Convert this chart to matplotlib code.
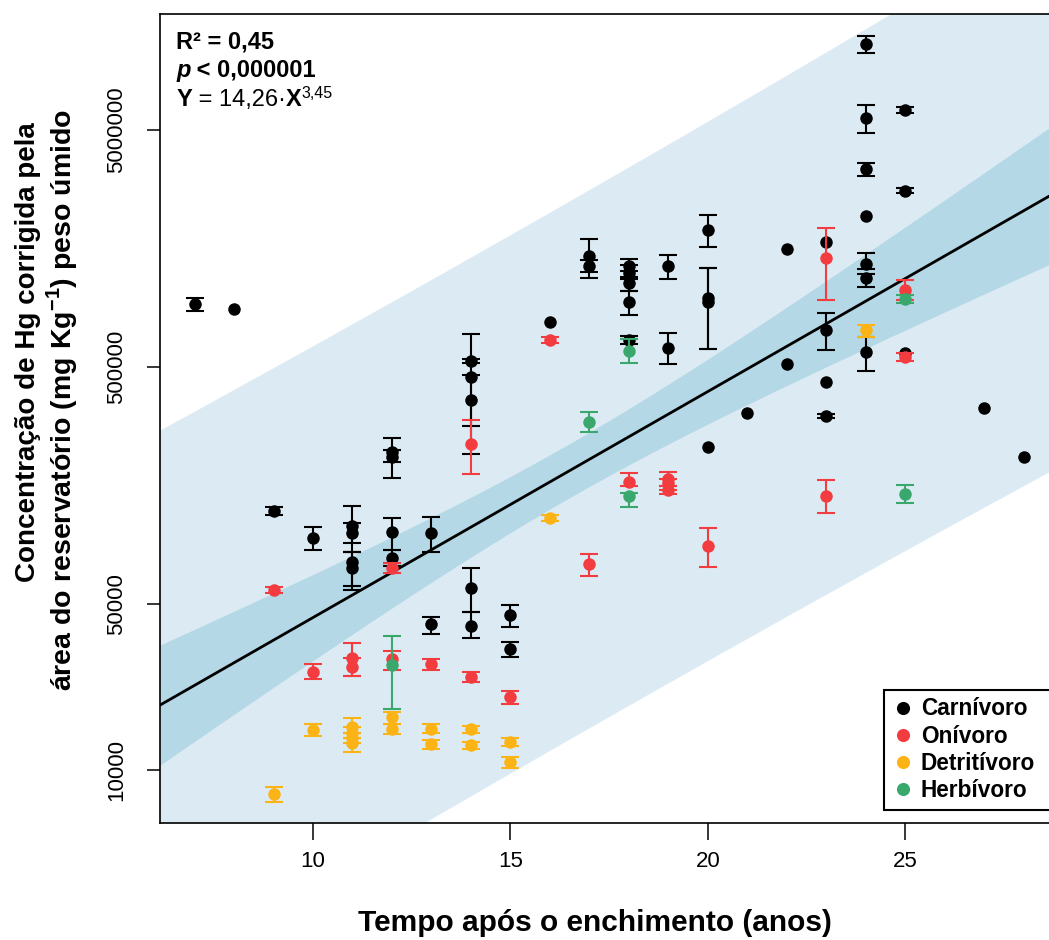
import numpy as np
import matplotlib
matplotlib.use("Agg")
import matplotlib.pyplot as plt

plt.rcParams['font.family'] = ['Liberation Sans', 'DejaVu Sans']
plt.rcParams['mathtext.fontset'] = 'custom'
plt.rcParams['mathtext.rm'] = 'Liberation Sans'
plt.rcParams['mathtext.bf'] = 'Liberation Sans:bold'

# --- data (mean, lower cap, upper cap); None = no error bar ---
carn_x = [7, 8, 9, 10, 11, 11, 11, 11, 12, 12, 12, 12, 13, 13,
          14, 14, 14, 14, 14, 15, 15, 16, 17, 17, 18, 18, 18, 18, 18,
          19, 19, 20, 20, 20, 20, 21, 22, 22, 23, 23, 23, 23,
          24, 24, 24, 24, 24, 24, 24, 25, 25, 25, 27, 28]
carn_y = [923000, 880000, 123700, 95200, 106900, 99900, 75400, 71100, 219400, 209000, 100900, 78400, 99900, 41290,
          531000, 454000, 363600, 58560, 40490, 45050, 32380, 775000, 1472000, 1336000, 1336000, 1248000, 1132000, 941700, 651000,
          1336000, 602000, 1894000, 979000, 941700, 230400, 320400, 1575000, 516000, 1686000, 717000, 433000, 311200,
          11530000, 5620000, 3426000, 2171000, 1362000, 1189000, 579000, 6075000, 2767000, 574000, 336400, 209000]
carn_lo = [863000, None, 119000, 84700, 90700, 83100, 59700, 57430, 170400, 199100, 84700, 72500, 83100, 37470,
           521000, 282400, 215200, 46380, 36030, 40100, 29970, None, 1260000, 1189000, 1272000, 1177000, 1048000, 830000, 626000,
           1177000, 516000, 1606000, 596000, 596000, None, None, None, None, None, 591000, None, 305000,
           10570000, 4860000, 3201000, None, 1297000, 1089000, 482000, 5900000, 2700000, None, None, None]
carn_hi = [979000, None, 128600, 105900, 129800, 110100, 83100, 83100, 251400, 223800, 115600, 84700, 116700, 44190,
           541000, 690000, 463000, 71100, 46380, 49650, 34660, None, 1736000, 1416000, 1430000, 1349000, 1200000, 1048000, 677000,
           1486000, 697000, 2192000, 1310000, 1310000, None, None, None, None, None, 846000, None, 318000,
           12460000, 6377000, 3632000, None, 1515000, 1236000, 670000, 6250000, 2840000, None, None, None]

oniv_x = [9, 10, 11, 11, 12, 12, 13, 14, 14, 15, 16, 17, 18, 19, 19, 19, 20, 23, 23, 25, 25]
oniv_y = [57430, 25900, 29680, 27190, 71100, 29390, 28000, 237200, 24670, 20320, 651000, 74000, 163900,
          168800, 162300, 151700, 88000, 1443000, 143100, 1058000, 552000]
oniv_lo = [55780, 24200, 24920, 24920, 67700, 26410, 26410, 177200, 23500, 18980, 632000, 65800, 157600,
           157600, 151700, 145900, 71800, 960000, 121300, 960000, 531000]
oniv_hi = [59100, 28000, 34320, 29680, 74700, 31760, 29390, 299400, 25900, 21540, 670000, 81500, 178900,
           180700, 168800, 157600, 104900, 1931000, 167100, 1166000, 574000]

detr_x = [9, 10, 11, 11, 11, 11, 12, 12, 13, 13, 14, 14, 15, 15, 16, 24]
detr_y = [7920, 14750, 15190, 14330, 13650, 13000, 16730, 14890, 14890, 12870, 14890, 12750, 13130, 10810, 115600, 717000]
detr_lo = [7330, 13910, 14330, 13650, 13000, 11910, 15630, 14190, 14330, 12260, 14330, 12260, 12620, 10200, 112200, 670000]
detr_hi = [8480, 15630, 16570, 15190, 14330, 13650, 17560, 15630, 15630, 13380, 15330, 13130, 13650, 11350, 119000, 753000]

herb_x = [12, 17, 18, 18, 25, 25]
herb_y = [27720, 293600, 585000, 143100, 969000, 145900]
herb_lo = [18080, 266400, 521000, 128600, 932000, 133700]
herb_hi = [36740, 323600, 657000, 147300, 1008000, 159200]

# fitted model: log10(Y) = a + b*X
fit_a = 3.690
fit_b = 0.0953
ci_var0 = 0.0130      # confidence band variance at centre
ci_curv = 0.000475    # growth of variance with distance from centre
ci_xm = 16.5
pred_var = 1.275      # residual variance for prediction band

groups = [
    (carn_x, carn_y, carn_lo, carn_hi, '#000000', 'Carnívoro'),
    (oniv_x, oniv_y, oniv_lo, oniv_hi, '#f23c3f', 'Onívoro'),
    (detr_x, detr_y, detr_lo, detr_hi, '#fbb316', 'Detritívoro'),
    (herb_x, herb_y, herb_lo, herb_hi, '#3aa86c', 'Herbívoro'),
]

fig = plt.figure(figsize=(10.49, 9.40), dpi=100)
ax = fig.add_axes([160/1049, 1-823/940, 892/1049, 809/940])
ax.set_yscale('log')
ax.set_xlim(6.124, 28.72)
ax.set_ylim(5977, 1.543e7)

# bands + line
xs = np.linspace(6.124, 28.72, 200)
mid = fit_a + fit_b*xs
ci = np.sqrt(ci_var0 + ci_curv*(xs - ci_xm)**2)
pi = np.sqrt(pred_var + ci**2)
ax.fill_between(xs, 10**(mid - pi), 10**(mid + pi), color='#dcebf3', lw=0, zorder=1)
ax.fill_between(xs, 10**(mid - ci), 10**(mid + ci), color='#b4d8e6', lw=0, zorder=2)
ax.plot(xs, 10**mid, color='black', lw=2.0, zorder=3)

z = 4
for gx, gy, glo, ghi, col, lab in groups:
    gx = np.array(gx, float)
    gy = np.array(gy, float)
    glo = np.array(glo, dtype=float)
    ghi = np.array(ghi, dtype=float)
    has = ~np.isnan(glo)
    ax.errorbar(gx[has], gy[has], yerr=[gy[has]-glo[has], ghi[has]-gy[has]], fmt='none',
                ecolor=col, elinewidth=1.5, capsize=6.5, capthick=1.5, zorder=z)
    ax.plot(gx, gy, 'o', color=col, ms=9, mec='none', zorder=z+0.5, label=lab)
    z += 1

# axes styling
for s in ax.spines.values():
    s.set_linewidth(1.2)
ax.set_xticks([10, 15, 20, 25])
ax.set_xticklabels(['10', '15', '20', '25'])
ax.set_yticks([10000, 50000, 500000, 5000000])
ax.set_yticklabels(['10000', '50000', '500000', '5000000'], rotation=90, va='center')
ax.minorticks_off()
ax.tick_params(axis='x', length=12, width=1.1, labelsize=16, pad=8)
ax.tick_params(axis='y', length=9.5, width=1.1, labelsize=16, pad=14)

fig.text(595/1049, 1-923/940, 'Tempo após o enchimento (anos)', fontsize=21.5, fontweight='bold',
         ha='center', va='center')
fig.text(28/1049, 1-352/940, 'Concentração de Hg corrigida pela', fontsize=20, fontweight='bold',
         rotation=90, ha='center', va='center')
fig.text(62/1049, 1-400/940, r'área do reservatório (mg Kg$^{\mathbf{-1}}$) peso úmido', fontsize=20.5,
         fontweight='bold', rotation=90, ha='center', va='center')

# statistics text
t1 = ax.text(0.018, 1-35/809, 'R² = 0,45', transform=ax.transAxes, fontsize=17,
             fontweight='bold', va='baseline')
t2 = ax.text(0.018, 1-63/809, 'p', transform=ax.transAxes, fontsize=17, fontweight='bold',
             fontstyle='italic', va='baseline')
ax.annotate(' < 0,000001', xy=(1, 0), xycoords=t2, fontsize=17, fontweight='bold', va='bottom')
t3 = ax.text(0.018, 1-92/809, 'Y', transform=ax.transAxes, fontsize=17, fontweight='bold', va='baseline')
t4 = ax.annotate(' = 14,26·', xy=(1, 0), xycoords=t3, fontsize=17, va='bottom')
t5 = ax.annotate('X', xy=(1, 0), xycoords=t4, fontsize=17, fontweight='bold', va='bottom')
ax.annotate('3,45', xy=(1, 0.45), xycoords=t5, fontsize=11.5, va='bottom')

# legend box runs past the right edge of the figure, as in the original
leg = ax.legend(loc='upper left', mode='expand',
                bbox_to_anchor=(884/1049, 1-808/940, 220/1049, 118/940), bbox_transform=fig.transFigure,
                borderaxespad=0, frameon=True, fancybox=False, edgecolor='black', framealpha=1,
                prop={'weight': 'bold', 'size': 16.3}, handlelength=1.0, handletextpad=0.3,
                labelspacing=0.19, borderpad=0.33, markerscale=1.05)
leg.get_frame().set_linewidth(1.5)

fig.savefig('out.png', dpi=100)
